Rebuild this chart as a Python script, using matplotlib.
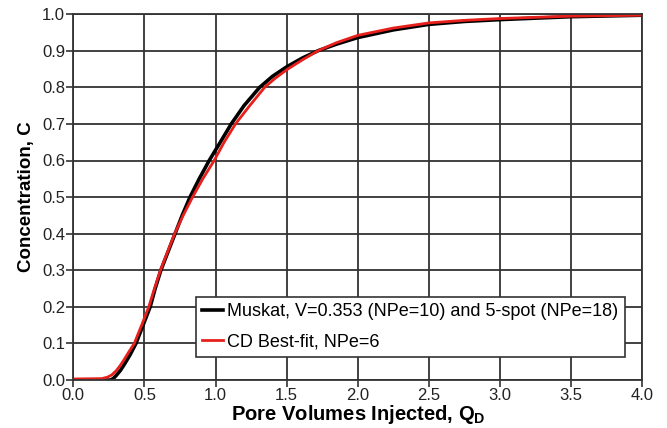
import matplotlib
matplotlib.use('Agg')
import matplotlib.pyplot as plt
import numpy as np

plt.rcParams['font.family'] = ['Liberation Sans', 'DejaVu Sans']
plt.rcParams['mathtext.fontset'] = 'custom'
plt.rcParams['mathtext.rm'] = 'Liberation Sans'
plt.rcParams['mathtext.bf'] = 'Liberation Sans:bold'

# Muskat curve (black)
muskat_x = [0, 0.26, 0.28, 0.30, 0.33, 0.36, 0.40, 0.44, 0.49, 0.54, 0.575, 0.615,
            0.665, 0.715, 0.765, 0.82, 0.885, 0.955, 1.03, 1.11, 1.20, 1.31, 1.40,
            1.5, 1.61, 1.72, 1.85, 2.0, 2.25, 2.5, 2.75, 3.0, 3.5, 4.0]
muskat_y = [0, 0, 0.004, 0.012, 0.026, 0.044, 0.07, 0.10, 0.15, 0.20, 0.25, 0.30,
            0.35, 0.40, 0.45, 0.50, 0.55, 0.60, 0.648, 0.70, 0.75, 0.80, 0.83,
            0.856, 0.88, 0.90, 0.918, 0.936, 0.957, 0.972, 0.98, 0.985, 0.993, 0.997]

# CD best-fit curve (red)
cd_x = [0, 0.20, 0.24, 0.27, 0.30, 0.33, 0.36, 0.39, 0.428, 0.48, 0.53, 0.57, 0.612,
        0.662, 0.712, 0.772, 0.838, 0.91, 0.99, 1.06, 1.14, 1.24, 1.345, 1.42, 1.5,
        1.61, 1.72, 1.85, 2.0, 2.25, 2.5, 2.75, 3.0, 3.5, 4.0]
cd_y = [0.003, 0.004, 0.008, 0.014, 0.025, 0.04, 0.058, 0.077, 0.10, 0.15, 0.20, 0.25, 0.30,
        0.35, 0.40, 0.45, 0.50, 0.55, 0.60, 0.65, 0.70, 0.75, 0.80, 0.825, 0.848,
        0.875, 0.90, 0.922, 0.942, 0.962, 0.976, 0.983, 0.988, 0.9945, 0.997]

xticks = np.arange(0, 4.01, 0.5)
yticks = np.arange(0, 1.01, 0.1)

fig = plt.figure(figsize=(6.67, 4.28), dpi=100)
ax = fig.add_axes([0.110, 0.112, 0.853, 0.855])

ax.plot(muskat_x, muskat_y, color='black', lw=2.6, solid_joinstyle='round',
        label='Muskat, V=0.353 (NPe=10) and 5-spot (NPe=18)')
ax.plot(cd_x, cd_y, color='#e8201c', lw=2.0, solid_joinstyle='round',
        label='CD Best-fit, NPe=6')

ax.set_xlim(0, 4)
ax.set_ylim(0, 1)
ax.set_xticks(xticks)
ax.set_yticks(yticks)
ax.set_xticklabels([f'{v:.1f}' for v in xticks])
ax.set_yticklabels([f'{v:.1f}' for v in yticks])
ax.tick_params(labelsize=12, length=5, width=1.2, color='#333333',
               labelcolor='#222222', pad=1)
ax.grid(True, color='#333333', lw=1.3)
ax.set_axisbelow(True)
for s in ax.spines.values():
    s.set_color('#333333')
    s.set_linewidth(1.3)

ax.set_xlabel(r'Pore Volumes Injected, $\mathbf{Q_D}$', fontsize=14.5,
              fontweight='bold', labelpad=0)
ax.set_ylabel('Concentration, C', fontsize=13.5, fontweight='bold', labelpad=5)

leg = ax.legend(loc='lower left', bbox_to_anchor=(0.215, 0.063), fontsize=13,
                frameon=True, fancybox=False, handlelength=1.15, handletextpad=0.25,
                borderpad=0.35, labelspacing=0.75, borderaxespad=0)
leg.get_frame().set_edgecolor('#333333')
leg.get_frame().set_linewidth(1.2)
leg.get_frame().set_alpha(1)

fig.savefig('out.png', dpi=100)
